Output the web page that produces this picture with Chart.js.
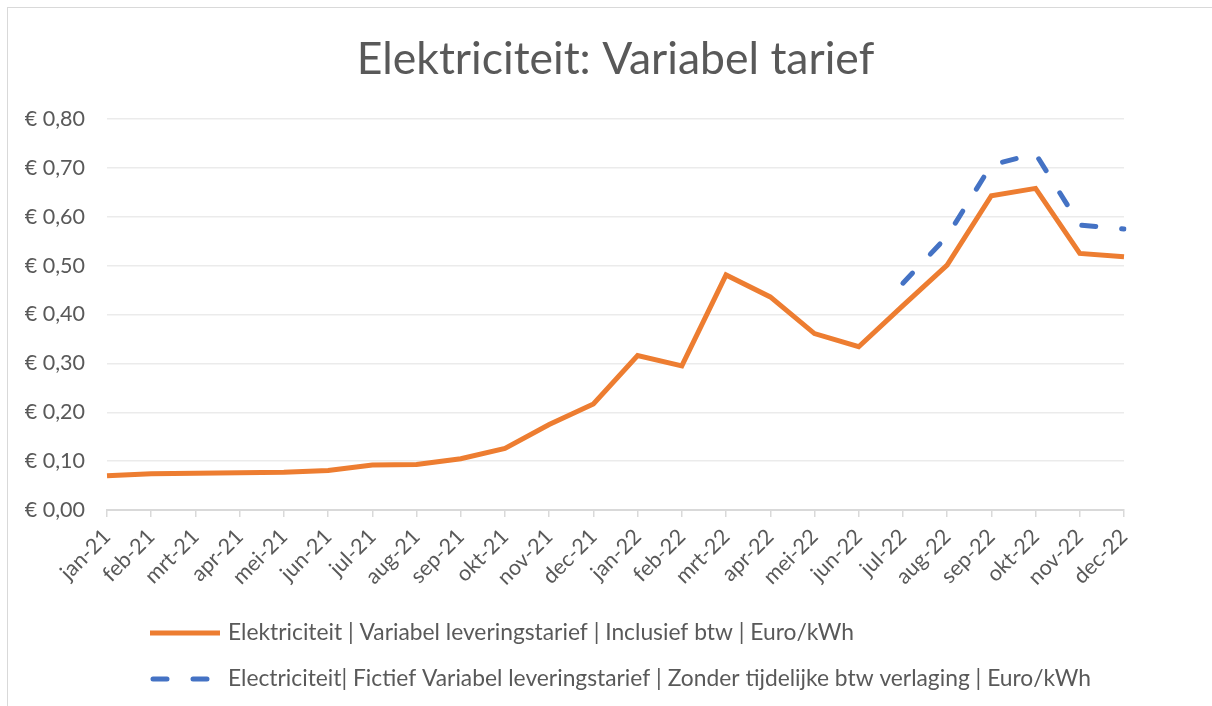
<!DOCTYPE html>
<html>
<head>
<meta charset="utf-8">
<script src="https://cdn.jsdelivr.net/npm/chart.js@4"></script>
<style>
  html, body { margin: 0; padding: 0; background: #fff; }
  #wrap { position: relative; width: 1212px; height: 706px; overflow: hidden; }
  #frame { position: absolute; left: 7px; top: 7px; width: 1300px; height: 800px;
           border-left: 1px solid #d9d9d9; border-top: 1px solid #d9d9d9; }
  canvas { position: absolute; left: 0; top: 0; }
</style>
</head>
<body>
<div id="wrap">
  <div id="frame"></div>
  <canvas id="lijn"></canvas>
</div>
<script>
// maanden jan-21 t/m dec-22
var maanden = ['jan-21','feb-21','mrt-21','apr-21','mei-21','jun-21','jul-21','aug-21','sep-21','okt-21','nov-21','dec-21',
               'jan-22','feb-22','mrt-22','apr-22','mei-22','jun-22','jul-22','aug-22','sep-22','okt-22','nov-22','dec-22'];

// Euro/kWh
var inclBtw = [0.070, 0.074, 0.075, 0.076, 0.077, 0.081, 0.092, 0.093, 0.105, 0.126, 0.175, 0.217,
               0.316, 0.295, 0.481, 0.436, 0.361, 0.334, 0.418, 0.501, 0.643, 0.658, 0.525, 0.518];
var zonderVerlaging = [null, null, null, null, null, null, null, null, null, null, null, null,
                       null, null, null, null, null, null, 0.464, 0.560, 0.706, 0.729, 0.583, 0.575];

var yTicks = [0, 0.1, 0.2, 0.3, 0.4, 0.5, 0.6, 0.7, 0.8];

var titel = 'Elektriciteit: Variabel tarief';
var labelIncl = 'Elektriciteit | Variabel leveringstarief | Inclusief btw | Euro/kWh';
var labelZonder = 'Electriciteit| Fictief Variabel leveringstarief | Zonder tijdelijke btw verlaging | Euro/kWh';

var tekstKleur = '#595959';
var fam = 'Lato, "Open Sans", sans-serif';
var streep = [14, 26];

// titel boven het plotgebied + eigen legenda (elk item op een eigen regel)
var tekstPlugin = {
  id: 'tekst',
  afterDraw: function(chart) {
    var ctx = chart.ctx;
    var ca = chart.chartArea;
    ctx.save();
    ctx.fillStyle = tekstKleur;
    ctx.font = '44.5px ' + fam;
    ctx.textAlign = 'center';
    ctx.textBaseline = 'middle';
    ctx.fillText(titel, (ca.left + ca.right) / 2, 60);

    var x0 = 150, rijen = [633, 679];
    chart.data.datasets.forEach(function(ds, i) {
      var y = rijen[i];
      ctx.beginPath();
      ctx.lineWidth = ds.borderWidth;
      ctx.strokeStyle = ds.borderColor;
      if (ds.borderDash) {
        ctx.lineCap = 'round';
        ctx.setLineDash(ds.borderDash);
        ctx.moveTo(x0 + 3, y); ctx.lineTo(x0 + 70, y);
      } else {
        ctx.lineCap = 'butt';
        ctx.setLineDash([]);
        ctx.moveTo(x0, y); ctx.lineTo(x0 + 70, y);
      }
      ctx.stroke();
      ctx.setLineDash([]);
      ctx.fillStyle = tekstKleur;
      ctx.font = '22.8px ' + fam;
      ctx.textBaseline = 'middle';
      ctx.textAlign = 'left';
      ctx.fillText(ds.label, x0 + 78, y);
    });
    ctx.restore();
  }
};

var ctx = document.getElementById('lijn').getContext('2d');
var lineChart = new Chart(ctx, {
  type: 'line',
  data: {
    labels: maanden,
    datasets: [
      {
        label: labelIncl,
        data: inclBtw,
        borderColor: '#ED7D31',
        backgroundColor: '#ED7D31',
        borderWidth: 5,
        pointRadius: 0,
        tension: 0,
        fill: false
      },
      {
        label: labelZonder,
        data: zonderVerlaging,
        borderColor: '#4472C4',
        backgroundColor: '#4472C4',
        borderWidth: 5,
        borderDash: streep,
        borderCapStyle: 'round',
        pointRadius: 0,
        tension: 0,
        fill: false,
        spanGaps: false
      }
    ]
  },
  options: {
    responsive: true,
    maintainAspectRatio: false,
    animation: false,
    layout: { padding: { left: 0, right: 88, top: 119, bottom: 116 } },
    plugins: {
      legend: { display: false },
      tooltip: { enabled: false },
      title: { display: false }
    },
    scales: {
      x: {
        offset: false,
        grid: { drawOnChartArea: false, drawTicks: true, tickLength: 7, color: '#d9d9d9', lineWidth: 1.5 },
        border: { display: true, color: '#d9d9d9', width: 2 },
        ticks: {
          color: tekstKleur,
          font: { family: fam, size: 21.5 },
          minRotation: 45,
          maxRotation: 45,
          autoSkip: false,
          padding: 7
        },
        afterFit: function(scale) { scale.height = 80; }
      },
      y: {
        min: 0,
        max: 0.8,
        afterBuildTicks: function(scale) {
          scale.ticks = yTicks.map(function(v) { return { value: v }; });
        },
        grid: { drawTicks: false, color: '#ebebeb', lineWidth: 1.5 },
        border: { display: false },
        ticks: {
          color: tekstKleur,
          font: { family: fam, size: 21.5 },
          padding: 22,
          callback: function(v) { return '€ ' + Number(v).toFixed(2).replace('.', ','); }
        },
        afterFit: function(scale) { scale.width = 107; }
      }
    }
  },
  plugins: [tekstPlugin]
});
</script>
</body>
</html>
